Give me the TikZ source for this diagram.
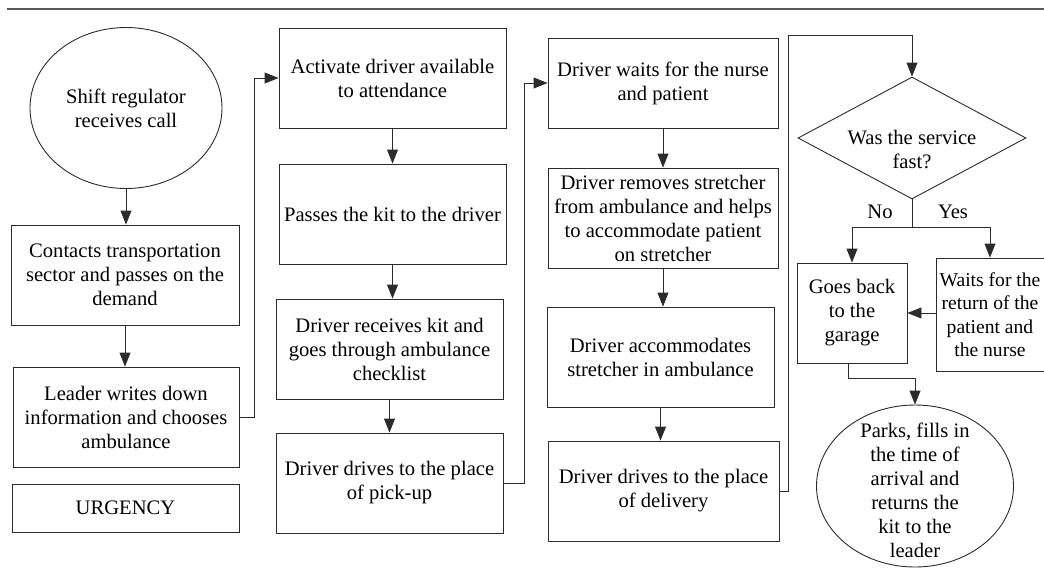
\documentclass[tikz,border=0pt]{standalone}
\usepackage{fontspec}
\setmainfont{Liberation Serif}
\usetikzlibrary{shapes.geometric,arrows.meta,calc}
\definecolor{linec}{HTML}{2B2B2B}
\tikzset{
 every node/.style={font=\fontsize{20.6}{24}\selectfont, text=black},
 box/.style={draw=linec, line width=0.9pt, rectangle, minimum height=100pt, inner sep=0pt, align=center},
 oval/.style={draw=linec, line width=0.9pt, ellipse, inner sep=0pt, align=center},
 decision/.style={draw=linec, line width=0.9pt, diamond, inner sep=0pt},
 arr/.style={draw=linec, line width=0.9pt, -{Triangle[length=14pt,width=11pt]}},
 conn/.style={draw=linec, line width=0.9pt},
 lbl/.style={inner sep=0pt}
}
\begin{document}
\begin{tikzpicture}[x=1pt,y=-1pt]
\useasboundingbox (0,0) rectangle (1044,570);
\draw[draw=black!65, line width=1.3pt] (7,9) -- (1044,9);

\node[oval, minimum width=192pt, minimum height=161pt] (e1) at (126,108) {Shift regulator\\receives call};
\node[box, minimum width=228pt] (c1) at (125,275) {Contacts transportation\\sector and passes on the\\demand};
\node[box, minimum width=226pt] (c2) at (126,417) {Leader writes down\\information and chooses\\ambulance};
\node[box, minimum width=227pt, minimum height=48pt] (urg) at (125.5,508) {URGENCY};

\node[box, minimum width=227pt] (a1) at (392.5,78) {Activate driver available\\to attendance};
\node[box, minimum width=227pt] (a2) at (392.5,214) {Passes the kit to the driver};
\node[box, minimum width=227pt] (a3) at (389.5,349) {Driver receives kit and\\goes through ambulance\\checklist};
\node[box, minimum width=227pt] (a4) at (389.5,483) {Driver drives to the place\\of pick-up};

\node[box, minimum width=230pt, minimum height=90pt] (b1) at (663,83) {Driver waits for the nurse\\and patient};
\node[box, minimum width=230pt] (b2) at (663,218) {Driver removes stretcher\\from ambulance and helps\\to accommodate patient\\on stretcher};
\node[box, minimum width=227pt] (b3) at (660.5,357) {Driver accommodates\\stretcher in ambulance};
\node[box, minimum width=231pt] (b4) at (663.5,491) {Driver drives to the place\\of delivery};

\node[decision, minimum width=228pt, minimum height=122pt] (d) at (912,138) {\makebox[0pt]{\smash{\raisebox{-19pt}{\begin{tabular}{@{}c@{}}Was the service\\fast?\end{tabular}}}}};
\node[box, minimum width=110pt] (g) at (852,313) {Goes back\\to the\\garage};
\node[box, minimum width=108pt, minimum height=113pt, font=\fontsize{19.6}{23.5}\selectfont] (w) at (990,314.5) {Waits for the\\return of the\\patient and\\the nurse};
\node[oval, minimum width=197pt, minimum height=162pt] (e2) at (915,486) {\makebox[0pt]{\smash{\raisebox{-11.5pt}{\begin{tabular}{@{}c@{}}Parks, fills in\\the time of\\arrival and\\returns the\\kit to the\\leader\end{tabular}}}}};

\node[lbl] (no) at (880,212) {No};
\node[lbl] (yes) at (953,212) {Yes};

\draw[arr] (e1.south) -- (e1.south |- c1.north);
\draw[arr] (c1.south) -- (c1.south |- c2.north);
\draw[arr] (c2.east) -- ++(15,0) |- (a1.west);
\draw[arr] (a1.south) -- (a1.south |- a2.north);
\draw[arr] (a2.south) -- (a2.south |- a3.north);
\draw[arr] (a3.south) -- (a3.south |- a4.north);
\draw[arr] (a4.east) -- ++(21,0) |- (b1.west);
\draw[arr] (b1.south) -- (b1.south |- b2.north);
\draw[arr] (b2.south) -- (b2.south |- b3.north);
\draw[arr] (b3.south) -- (b3.south |- b4.north);
\draw[arr] (b4.east) -- ++(9,0) |- ($(d.north)+(0,-41)$) -- (d.north);
\draw[conn] (d.south) -- ++(0,28) coordinate (split);
\draw[arr] (split) -| (g.north);
\draw[arr] (split) -| (w.north);
\draw[arr] (w.west |- g.east) -- (g.east);
\draw[arr] ([xshift=-4pt]g.south) -- ++(0,15) -| (e2.north);
\end{tikzpicture}
\end{document}
